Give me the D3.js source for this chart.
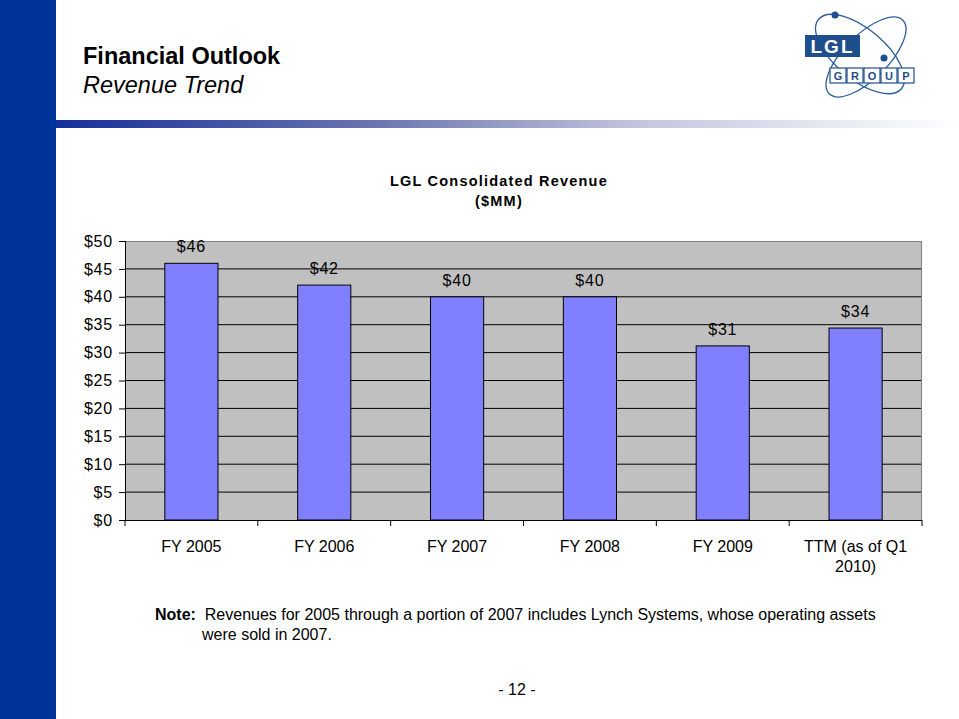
<!DOCTYPE html>
<html>
<head>
<meta charset="utf-8">
<script src="https://cdn.jsdelivr.net/npm/d3@7"></script>
<style>
  html, body { margin: 0; padding: 0; background: #fff; }
  svg { display: block; font-family: "Liberation Sans", Arial, sans-serif; }
</style>
</head>
<body>
<svg id="chart" width="959" height="719"></svg>
<script>
// ---- data ----
const categories = ["FY 2005", "FY 2006", "FY 2007", "FY 2008", "FY 2009", "TTM (as of Q1\n2010)"];
const revenue = [46.0, 42.1, 40.0, 40.0, 31.2, 34.4];
const valueLabels = ["$46", "$42", "$40", "$40", "$31", "$34"];
const yTicks = [0, 5, 10, 15, 20, 25, 30, 35, 40, 45, 50];
const titleText = "Financial Outlook";
const subtitleText = "Revenue Trend";
const chartTitle = ["LGL Consolidated Revenue", "($MM)"];
const noteLines = ["Revenues for 2005 through a portion of 2007 includes Lynch Systems, whose operating assets", "were sold in 2007."];
const pageNumber = "- 12 -";

const svg = d3.select("#chart");

// ---- slide frame ----
const defs = svg.append("defs");
const grad = defs.append("linearGradient").attr("id", "hdrGrad").attr("x1", "0%").attr("x2", "100%");
grad.append("stop").attr("offset", "0%").attr("stop-color", "#16309a");
grad.append("stop").attr("offset", "35%").attr("stop-color", "#6a74ae");
grad.append("stop").attr("offset", "65%").attr("stop-color", "#c4c7de");
grad.append("stop").attr("offset", "100%").attr("stop-color", "#ffffff");

svg.append("rect").attr("x", 0).attr("y", 0).attr("width", 56).attr("height", 719).attr("fill", "#003399");
svg.append("rect").attr("x", 56).attr("y", 120).attr("width", 903).attr("height", 8).attr("fill", "url(#hdrGrad)");

svg.append("text").attr("x", 83).attr("y", 64).attr("font-size", 23.5).attr("font-weight", "bold").attr("fill", "#000").text(titleText);
svg.append("text").attr("x", 83).attr("y", 93).attr("font-size", 23.5).attr("font-style", "italic").attr("fill", "#000").text(subtitleText);

// ---- logo ----
const logo = svg.append("g");
const orbit = "#2f5d9a";
logo.append("ellipse").attr("cx", 0).attr("cy", 0).attr("rx", 54).attr("ry", 25)
  .attr("transform", "translate(860,54) rotate(40)").attr("fill", "none").attr("stroke", orbit).attr("stroke-width", 1.3);
logo.append("ellipse").attr("cx", 0).attr("cy", 0).attr("rx", 52).attr("ry", 22)
  .attr("transform", "translate(866,57) rotate(-45)").attr("fill", "none").attr("stroke", orbit).attr("stroke-width", 1.3);
logo.append("circle").attr("cx", 835).attr("cy", 15).attr("r", 3.5).attr("fill", "#1f4e8c");
logo.append("circle").attr("cx", 884).attr("cy", 58).attr("r", 3.5).attr("fill", "#1f4e8c");
logo.append("rect").attr("x", 805).attr("y", 35).attr("width", 55).attr("height", 22).attr("fill", "#1f4e8c");
logo.append("text").attr("x", 832.5).attr("y", 53).attr("text-anchor", "middle").attr("font-size", 19)
  .attr("font-weight", "bold").attr("fill", "#fff").attr("letter-spacing", 2).text("LGL");
"GROUP".split("").forEach((ch, i) => {
  const x = 830 + i * 17;
  logo.append("rect").attr("x", x).attr("y", 68).attr("width", 16).attr("height", 15)
    .attr("fill", "#fff").attr("stroke", "#1f4e8c").attr("stroke-width", 1.2);
  logo.append("text").attr("x", x + 8).attr("y", 80).attr("text-anchor", "middle").attr("font-size", 11)
    .attr("font-weight", "bold").attr("fill", "#1f4e8c").text(ch);
});

// ---- chart ----
const plot = { left: 125, right: 922, top: 241, bottom: 520 };
const x = d3.scaleBand().domain(categories).range([plot.left, plot.right]).paddingInner(0.6).paddingOuter(0.3);
const xb = d3.scaleBand().domain(categories).range([plot.left, plot.right]);
const y = d3.scaleLinear().domain([0, 50]).range([plot.bottom, plot.top]);

svg.append("rect").attr("x", plot.left).attr("y", plot.top).attr("width", plot.right - plot.left)
  .attr("height", plot.bottom - plot.top).attr("fill", "#c0c0c0");

// gridlines
svg.append("g").selectAll("line").data(yTicks.filter(t => t > 0 && t < 50)).join("line")
  .attr("x1", plot.left).attr("x2", plot.right).attr("y1", d => y(d)).attr("y2", d => y(d))
  .attr("stroke", "#000").attr("stroke-width", 1);

// plot border top/right
svg.append("line").attr("x1", plot.left).attr("x2", plot.right).attr("y1", plot.top + 0.5).attr("y2", plot.top + 0.5).attr("stroke", "#808080");
svg.append("line").attr("x1", plot.right - 0.5).attr("x2", plot.right - 0.5).attr("y1", plot.top).attr("y2", plot.bottom).attr("stroke", "#808080");

// bars
svg.append("g").selectAll("rect").data(revenue).join("rect")
  .attr("x", (d, i) => x(categories[i])).attr("y", d => y(d))
  .attr("width", x.bandwidth()).attr("height", d => plot.bottom - y(d))
  .attr("fill", "#8080ff").attr("stroke", "#000").attr("stroke-width", 1);

// value labels
svg.append("g").selectAll("text").data(revenue).join("text")
  .attr("x", (d, i) => x(categories[i]) + x.bandwidth() / 2).attr("y", d => y(d) - 11)
  .attr("text-anchor", "middle").attr("font-size", 16).attr("letter-spacing", 0.8).attr("fill", "#000")
  .text((d, i) => valueLabels[i]);

// y axis
const yAxis = d3.axisLeft(y).tickValues(yTicks).tickSize(6).tickPadding(6).tickFormat(d => "$" + d);
const gy = svg.append("g").attr("transform", `translate(${plot.left},0)`).call(yAxis);
gy.selectAll("text").attr("font-size", 16).attr("letter-spacing", 0.8).attr("font-family", "Liberation Sans, Arial, sans-serif").attr("fill", "#000");
gy.selectAll("line, path").attr("stroke", "#000");
gy.select(".domain").attr("d", `M0.5,${plot.top}V${plot.bottom}`);

// x axis with ticks at category boundaries
const gx = svg.append("g").attr("transform", `translate(0,${plot.bottom})`);
gx.append("line").attr("x1", plot.left).attr("x2", plot.right).attr("y1", 0.5).attr("y2", 0.5).attr("stroke", "#000");
const bounds = categories.map(c => xb(c)).concat([plot.right]);
gx.selectAll("line.tk").data(bounds).join("line").attr("class", "tk")
  .attr("x1", d => d).attr("x2", d => d).attr("y1", 0).attr("y2", 6).attr("stroke", "#000");
categories.forEach(c => {
  const lines = c.split("\n");
  const t = gx.append("text").attr("x", xb(c) + xb.bandwidth() / 2).attr("y", 32)
    .attr("text-anchor", "middle").attr("font-size", 16).attr("fill", "#000");
  lines.forEach((l, j) => t.append("tspan").attr("x", xb(c) + xb.bandwidth() / 2).attr("dy", j === 0 ? 0 : 20).text(l));
});

// chart title
svg.append("text").attr("x", 499).attr("y", 186).attr("text-anchor", "middle").attr("font-size", 14.5)
  .attr("letter-spacing", 1.2).attr("font-weight", "bold").text(chartTitle[0]);
svg.append("text").attr("x", 499).attr("y", 206).attr("text-anchor", "middle").attr("font-size", 14.5)
  .attr("letter-spacing", 1.2).attr("font-weight", "bold").text(chartTitle[1]);

// note
const note = svg.append("text").attr("x", 155).attr("y", 620).attr("font-size", 16).attr("fill", "#000")
  .attr("xml:space", "preserve");
note.append("tspan").attr("font-weight", "bold").text("Note:");
note.append("tspan").text("  " + noteLines[0]);
svg.append("text").attr("x", 202).attr("y", 640).attr("font-size", 16).text(noteLines[1]);

// page number
svg.append("text").attr("x", 517).attr("y", 695).attr("text-anchor", "middle").attr("font-size", 16).text(pageNumber);
</script>
</body>
</html>
